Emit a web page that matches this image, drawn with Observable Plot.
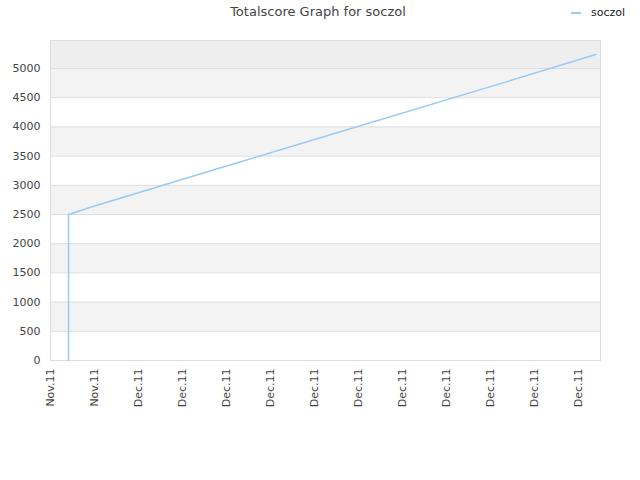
<!DOCTYPE html>
<html>
<head>
<meta charset="utf-8">
<script src="https://cdn.jsdelivr.net/npm/d3@7"></script>
<script src="https://cdn.jsdelivr.net/npm/@observablehq/plot@0.6"></script>
<style>
  html, body { margin: 0; padding: 0; background: #fff; }
  #wrap { position: relative; width: 640px; height: 480px; font-family: "DejaVu Sans", sans-serif; }
  #title { position: absolute; top: 4px; left: 0; width: 636px; text-align: center; font-size: 13px; color: #444; }
  #legend { position: absolute; top: 6px; left: 571px; font-size: 11px; color: #222; display: flex; align-items: center; }
  #legend .sw { width: 10px; height: 2px; background: #99c9f5; margin-right: 10px; }
  #chart { position: absolute; top: 0; left: 0; }
</style>
</head>
<body>
<div id="wrap">
  <div id="chart"></div>
  <div id="title">Totalscore Graph for soczol</div>
  <div id="legend"><span class="sw"></span><span>soczol</span></div>
</div>
<script>
const seriesName = "soczol";
const xPos = [0.41, 0.41, 1.02, 4, 7, 10, 12.39];
const scores = [0, 2500, 2650, 3330, 4010, 4690, 5240];
const xTickLabels = ["Nov.11", "Nov.11", "Dec.11", "Dec.11", "Dec.11", "Dec.11", "Dec.11", "Dec.11", "Dec.11", "Dec.11", "Dec.11", "Dec.11", "Dec.11"];
const yTicks = [0, 500, 1000, 1500, 2000, 2500, 3000, 3500, 4000, 4500, 5000];
const yMax = 5480;

const points = xPos.map((x, i) => ({x, y: scores[i]}));
const bands = yTicks.map((v, i) => ({y1: v, y2: i < yTicks.length - 1 ? yTicks[i + 1] : yMax, k: i}));

const chart = Plot.plot({
  width: 640,
  height: 480,
  marginTop: 40,
  marginLeft: 50,
  marginRight: 40,
  marginBottom: 120,
  style: {fontFamily: "DejaVu Sans, sans-serif", fontSize: "11px", color: "#444", background: "transparent"},
  x: {domain: [0, 12.5]},
  y: {domain: [0, yMax]},
  marks: [
    Plot.rectY(bands, {y1: "y1", y2: "y2", fill: d => d.k === yTicks.length - 1 ? "#eeeeee" : (d.k % 2 === 1 ? "#f3f3f3" : "#ffffff")}),
    Plot.ruleY(yTicks.slice(1), {stroke: "#dddddd"}),
    Plot.frame({stroke: "#dddddd"}),
    Plot.axisY({ticks: yTicks, tickFormat: d => String(d), tickSize: 0, tickPadding: 10, label: null, fill: "#444"}),
    Plot.axisX({ticks: d3.range(xTickLabels.length), tickFormat: i => xTickLabels[i], tickRotate: -90, tickSize: 0, tickPadding: 8, label: null, fill: "#444"}),
    Plot.line(points, {x: "x", y: "y", stroke: "#99c9f5", strokeWidth: 1.5})
  ]
});
document.getElementById("chart").appendChild(chart);
</script>
</body>
</html>
